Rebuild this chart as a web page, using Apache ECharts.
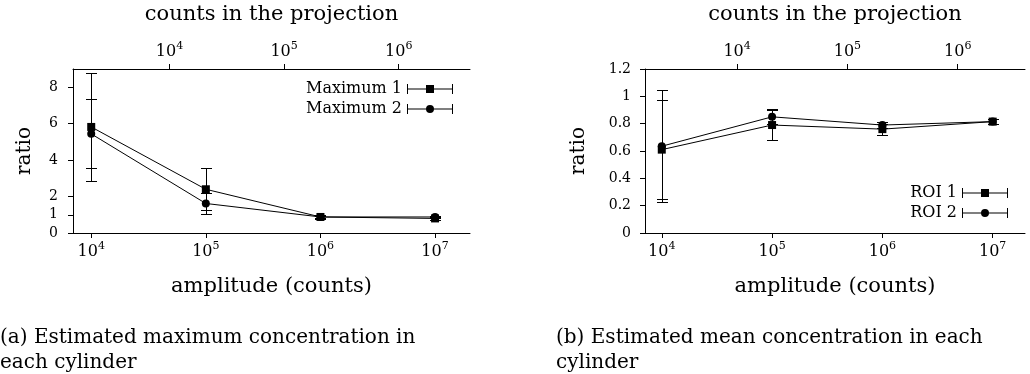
<!DOCTYPE html>
<html>
<head>
<meta charset="utf-8">
<script src="https://cdn.jsdelivr.net/npm/echarts@6/dist/echarts.min.js"></script>
<style>
html,body{margin:0;padding:0;background:#fff;}
#c{width:1030px;height:374px;}
</style>
</head>
<body>
<div id="c"></div>
<script>
// ---------- data ----------
const amplitude = [1e4, 1e5, 1e6, 1e7];
const bottomTicks = [1e4, 1e5, 1e6, 1e7];
const topTicks = [1e4, 1e5, 1e6];
const countsPerAmplitude = 1 / 4.82;   // top axis: counts in the projection

const max1 = [5.82, 2.40, 0.88, 0.80];
const max1Err = [2.95, 1.15, 0.10, 0.08];
const max2 = [5.44, 1.62, 0.88, 0.88];
const max2Err = [1.89, 0.58, 0.08, 0.06];

const roi1 = [0.61, 0.79, 0.76, 0.815];
const roi1Err = [0.36, 0.11, 0.04, 0.02];
const roi2 = [0.635, 0.85, 0.79, 0.815];
const roi2Err = [0.41, 0.055, 0.025, 0.02];

const leftYTicks = [0, 1, 2, 4, 6, 8];

const captionA = '(a) Estimated maximum concentration in\neach cylinder';
const captionB = '(b) Estimated mean concentration in each\ncylinder';

// ---------- helpers ----------
const FONT = 'DejaVu Serif';
const xMinA = 6934, xMaxA = 2.018e7;
const xMinB = 7046, xMaxB = 1.963e7;

function pow10Label(v) {
  const e = Math.round(Math.log10(v));
  return '{b|10}{s|' + e + '}';
}
const powRich = {
  b: {fontFamily: FONT, fontSize: 16, color: '#000', lineHeight: 19, verticalAlign: 'bottom'},
  s: {fontFamily: FONT, fontSize: 11, color: '#000', lineHeight: 13, verticalAlign: 'top'}
};

function pairs(xs, ys, es) {
  return xs.map((x, i) => es ? [x, ys[i], es[i]] : [x, ys[i]]);
}

function renderErr(params, api) {
  const x = api.value(0), y = api.value(1), e = api.value(2);
  const hi = api.coord([x, y + e]);
  const lo = api.coord([x, y - e]);
  const cx = Math.round(hi[0]) + 0.5;
  const yh = Math.round(hi[1]) + 0.5, yl = Math.round(lo[1]) + 0.5;
  const w = 5.5;
  const st = {stroke: '#000', lineWidth: 1};
  return {
    type: 'group',
    children: [
      {type: 'line', shape: {x1: cx, y1: yh, x2: cx, y2: yl}, style: st},
      {type: 'line', shape: {x1: cx - w, y1: yh, x2: cx + w, y2: yh}, style: st},
      {type: 'line', shape: {x1: cx - w, y1: yl, x2: cx + w, y2: yl}, style: st}
    ]
  };
}

const SQ_ICON = 'path://M0,0H1V10H0Z M1,4.5H45V5.5H1Z M45,0H46V10H45Z M19,1H27V9H19Z';
const CI_ICON = 'path://M0,0H1V10H0Z M1,4.5H45V5.5H1Z M45,0H46V10H45Z M27,5A4,4,0,1,1,19,5A4,4,0,1,1,27,5Z';

const axisLineBlack = {show: true, lineStyle: {color: '#000', width: 1}};
const tickBlack = {show: true, length: 5, inside: false, lineStyle: {color: '#000', width: 1}};

function bottomAxis(gridIndex, min, max) {
  return {
    type: 'log', logBase: 10, gridIndex, position: 'bottom', min, max,
    name: 'amplitude (counts)', nameLocation: 'middle', nameGap: 43,
    nameTextStyle: {fontFamily: FONT, fontSize: 21, color: '#000'},
    axisLine: axisLineBlack,
    axisTick: Object.assign({customValues: bottomTicks}, tickBlack),
    minorTick: {show: false}, splitLine: {show: false}, minorSplitLine: {show: false},
    axisLabel: {customValues: bottomTicks, formatter: pow10Label, rich: powRich, margin: 8, color: '#000'}
  };
}
function topAxis(gridIndex, min, max) {
  return {
    type: 'log', logBase: 10, gridIndex, position: 'top',
    min: min * countsPerAmplitude, max: max * countsPerAmplitude,
    name: 'counts in the projection', nameLocation: 'middle', nameGap: 44,
    nameTextStyle: {fontFamily: FONT, fontSize: 21, color: '#000'},
    axisLine: axisLineBlack,
    axisTick: Object.assign({customValues: topTicks}, tickBlack),
    minorTick: {show: false}, splitLine: {show: false}, minorSplitLine: {show: false},
    axisLabel: {customValues: topTicks, formatter: pow10Label, rich: powRich, margin: 9, color: '#000'}
  };
}

const lineSeries = (name, xi, yi, data, symbol) => ({
  name, type: 'line', xAxisIndex: xi, yAxisIndex: yi, data,
  symbol, symbolSize: 8, showAllSymbol: true,
  lineStyle: {color: '#000', width: 1}, itemStyle: {color: '#000', borderWidth: 0},
  z: 3, silent: true, animation: false, emphasis: {disabled: true}
});
const errSeries = (name, xi, yi, data) => ({
  name, type: 'custom', xAxisIndex: xi, yAxisIndex: yi, data,
  renderItem: renderErr, encode: {x: 0, y: 1}, z: 2, silent: true, animation: false
});

const legendCommon = {
  orient: 'vertical', align: 'right', padding: 0, itemGap: 4,
  itemWidth: 46, itemHeight: 10, selectedMode: false,
  itemStyle: {borderWidth: 0},
  textStyle: {fontFamily: FONT, fontSize: 16, color: '#000'}
};

const captionStyle = {fontFamily: FONT, fontSize: 20, fontWeight: 'normal', color: '#000', lineHeight: 25};

const option = {
  animation: false,
  backgroundColor: '#fff',
  title: [
    {text: captionA, left: 0, top: 325, padding: 0, textStyle: captionStyle},
    {text: captionB, left: 556, top: 325, padding: 0, textStyle: captionStyle}
  ],
  grid: [
    {left: 73, top: 69, width: 397, height: 164, containLabel: false, outerBoundsMode: 'none'},
    {left: 645, top: 69, width: 380, height: 164, containLabel: false, outerBoundsMode: 'none'}
  ],
  xAxis: [
    bottomAxis(0, xMinA, xMaxA),
    topAxis(0, xMinA, xMaxA),
    bottomAxis(1, xMinB, xMaxB),
    topAxis(1, xMinB, xMaxB)
  ],
  yAxis: [
    {type: 'value', gridIndex: 0, min: 0, max: 9, interval: 1,
     name: 'ratio', nameLocation: 'middle', nameGap: 38, nameRotate: 90,
     nameTextStyle: {fontFamily: FONT, fontSize: 20, color: '#000'},
     axisLine: axisLineBlack,
     axisTick: Object.assign({customValues: leftYTicks}, tickBlack),
     splitLine: {show: false},
     axisLabel: {customValues: leftYTicks, fontFamily: FONT, fontSize: 14, color: '#000', margin: 15}},
    {type: 'value', gridIndex: 1, min: 0, max: 1.2, interval: 0.2,
     name: 'ratio', nameLocation: 'middle', nameGap: 56, nameRotate: 90,
     nameTextStyle: {fontFamily: FONT, fontSize: 20, color: '#000'},
     axisLine: axisLineBlack, axisTick: tickBlack,
     splitLine: {show: false},
     axisLabel: {fontFamily: FONT, fontSize: 14, color: '#000', margin: 14}}
  ],
  legend: [
    Object.assign({}, legendCommon, {
      right: 577, top: 81,
      data: [{name: 'Maximum 1', icon: SQ_ICON}, {name: 'Maximum 2', icon: CI_ICON}]
    }),
    Object.assign({}, legendCommon, {
      right: 22, top: 185,
      data: [{name: 'ROI 1', icon: SQ_ICON}, {name: 'ROI 2', icon: CI_ICON}]
    })
  ],
  series: [
    errSeries('err1', 0, 0, pairs(amplitude, max1, max1Err)),
    errSeries('err2', 0, 0, pairs(amplitude, max2, max2Err)),
    lineSeries('Maximum 1', 0, 0, pairs(amplitude, max1), 'rect'),
    lineSeries('Maximum 2', 0, 0, pairs(amplitude, max2), 'circle'),
    errSeries('err3', 2, 1, pairs(amplitude, roi1, roi1Err)),
    errSeries('err4', 2, 1, pairs(amplitude, roi2, roi2Err)),
    lineSeries('ROI 1', 2, 1, pairs(amplitude, roi1), 'rect'),
    lineSeries('ROI 2', 2, 1, pairs(amplitude, roi2), 'circle')
  ]
};

const chart = echarts.init(document.getElementById('c'), null, {renderer: 'canvas'});
chart.setOption(option);
</script>
</body>
</html>
